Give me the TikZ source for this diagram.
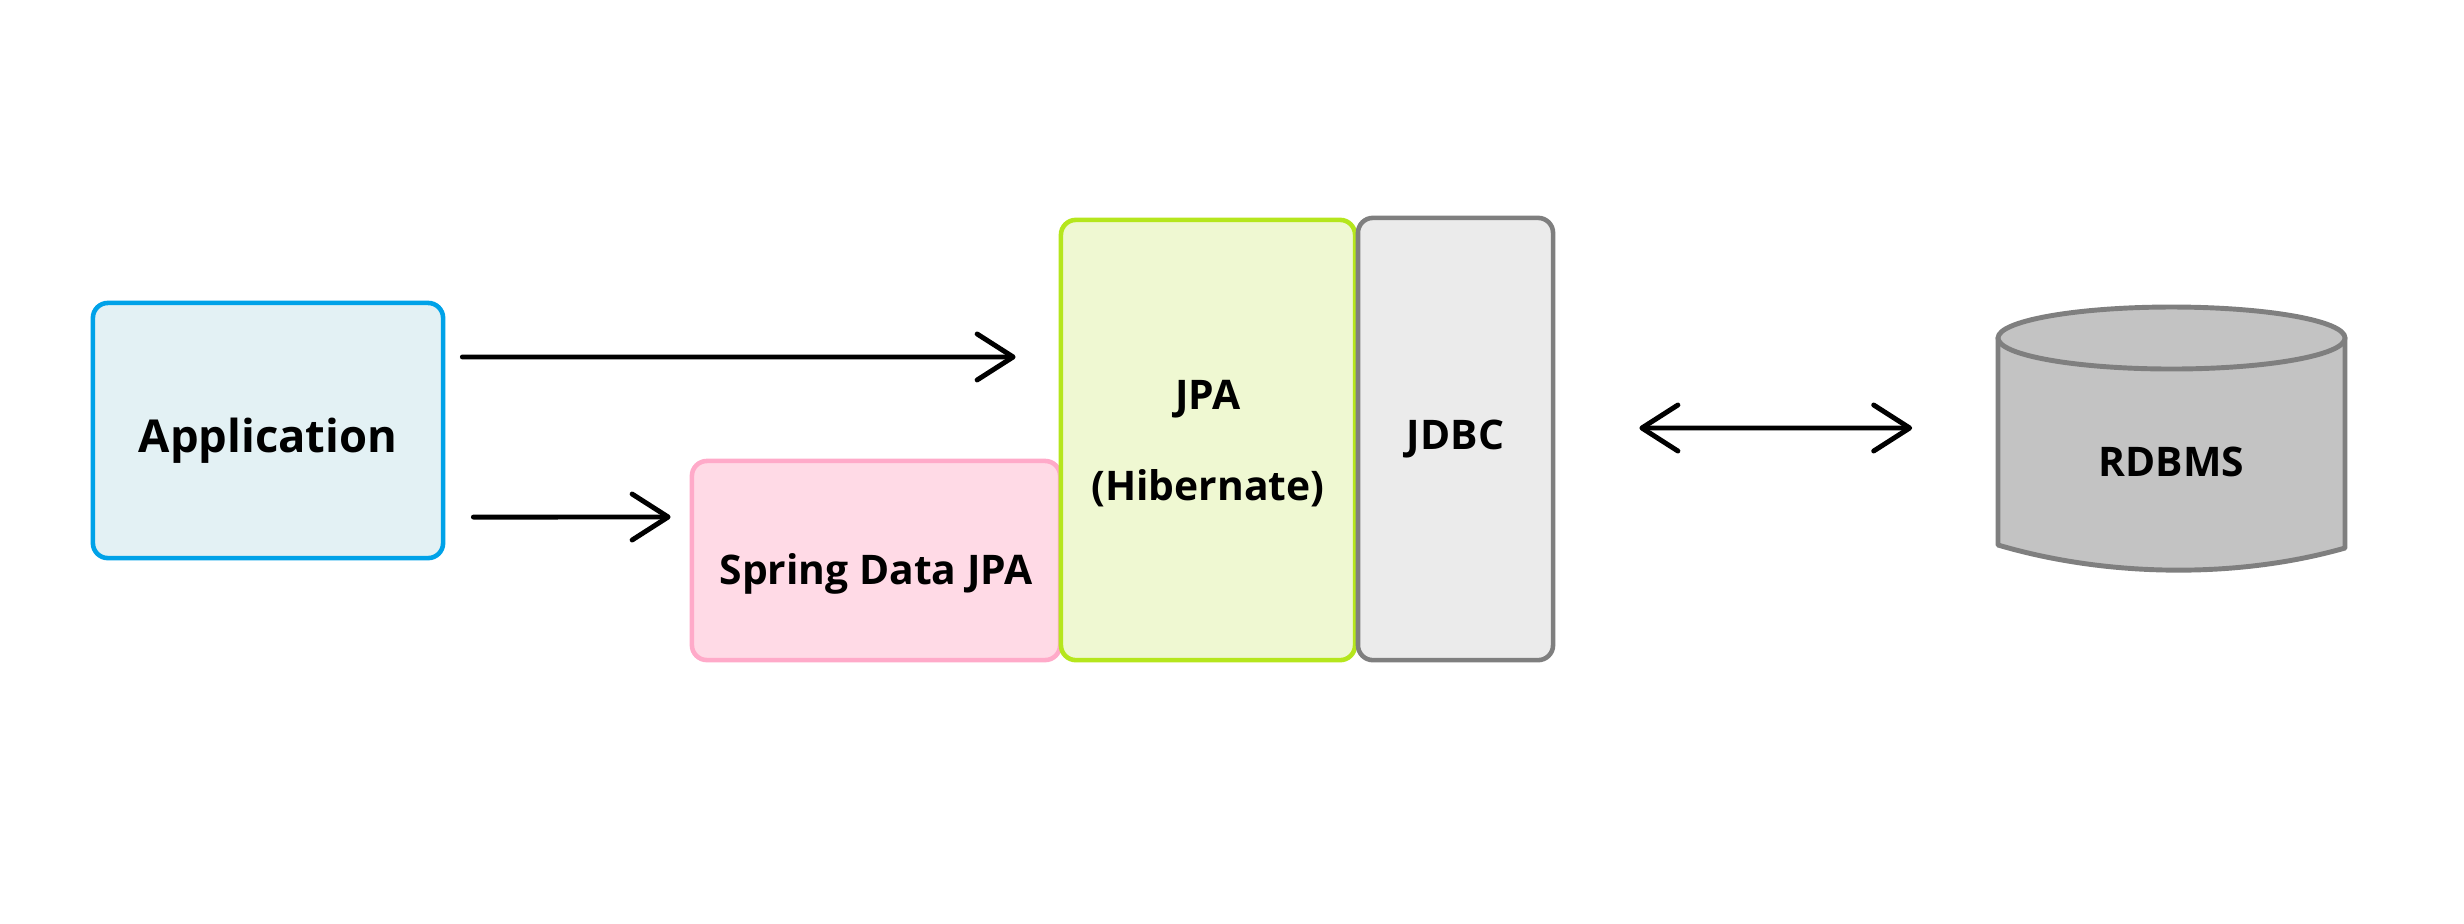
\documentclass[tikz,border=0pt]{standalone}
\usepackage{fontspec}
\setmainfont{Open Sans}
\usetikzlibrary{arrows.meta,positioning}

\definecolor{appline}{HTML}{00A2E8}
\definecolor{appfill}{HTML}{E3F1F4}
\definecolor{springline}{HTML}{FFAAC9}
\definecolor{springfill}{HTML}{FFDAE6}
\definecolor{jpaline}{HTML}{B5E61D}
\definecolor{jpafill}{HTML}{EFF8D2}
\definecolor{jdbcline}{HTML}{7F7F7F}
\definecolor{jdbcfill}{HTML}{EBEBEB}
\definecolor{dbfill}{HTML}{C3C3C3}

\begin{document}
\begin{tikzpicture}[x=0.01cm,y=-0.01cm,
            layer/.style={draw,rectangle,rounded corners=0.15cm,line width=1.3pt,align=center,font=\bfseries\fontsize{11.6}{13}\selectfont},
            appbox/.style={layer,draw=appline,fill=appfill,minimum width=3.5cm,minimum height=2.55cm,text depth=0pt,text height=12.6pt,font=\bfseries\fontsize{12.9}{15}\selectfont},
            springbox/.style={layer,draw=springline,fill=springfill,minimum width=3.68cm,minimum height=1.99cm,text depth=0pt,text height=13.4pt},
            jpabox/.style={layer,draw=jpaline,fill=jpafill,minimum width=2.94cm,minimum height=4.4cm,text depth=0pt},
            jdbcbox/.style={layer,draw=jdbcline,fill=jdbcfill,minimum width=1.95cm,minimum height=4.42cm},
            dbshape/.style={draw=jdbcline,fill=dbfill,line width=1.4pt,line join=round},
            flow/.style={draw,line width=1.4pt,line cap=round,-{Straight Barb[length=0.36cm,width=0.46cm,line cap=round,line join=round]}},
            twoway/.style={flow,{Straight Barb[length=0.36cm,width=0.46cm,line cap=round,line join=round]}-{Straight Barb[length=0.36cm,width=0.46cm,line cap=round,line join=round]}}
          ]
          \useasboundingbox (0,0) rectangle (2464,923);

          \node[appbox] (app) at (268,430.5) {Application};
          \node[springbox] (spring) at (876,560.5) {Spring Data JPA};
          \node[jpabox] (jpa) at (1208,440) {JPA\\[0.45cm](Hibernate)};
          \node[jdbcbox] (jdbc) at (1455.5,439) {JDBC};

          %database
          \path[dbshape] (1998,338) -- (1998,545) .. controls (2110,578) and (2240,578) .. (2345,548) -- (2345,338) -- cycle;
          \path[dbshape] (2171.5,338) ellipse [x radius=173.5, y radius=31];
          \node[minimum width=3.49cm,font=\bfseries\fontsize{11.6}{13}\selectfont] (db) at (2171.5,462) {RDBMS};

          %arrows
          \path
          ([yshift=.735cm]app.east) edge[flow,shorten <=0.17cm,shorten >=0.43cm] ([yshift=.83cm]jpa.west)
          ([yshift=-.865cm]app.east) edge[flow,shorten <=0.28cm,shorten >=0.19cm] ([yshift=.435cm]spring.west)
          ([yshift=.11cm]jdbc.east) edge[twoway,shorten <=0.84cm,shorten >=0.84cm] ([yshift=.34cm]db.west)
          ;
\end{tikzpicture}
\end{document}
